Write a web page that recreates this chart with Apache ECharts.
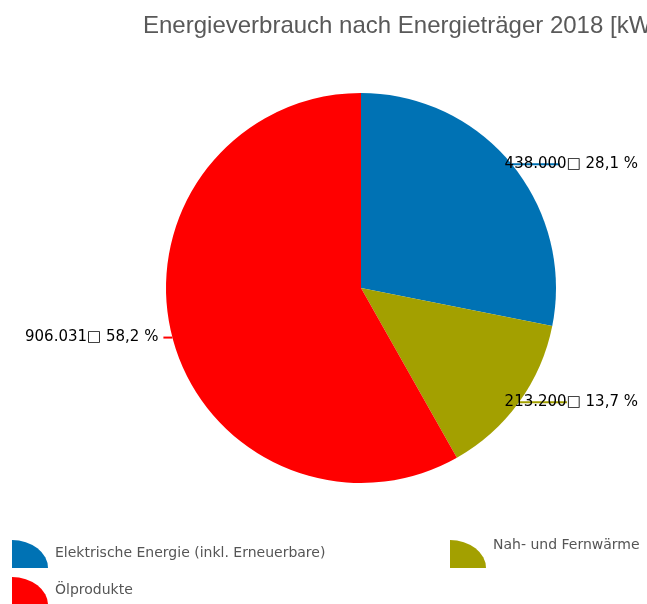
<!DOCTYPE html>
<html>
<head>
<meta charset="utf-8">
<script src="https://cdn.jsdelivr.net/npm/echarts@6/dist/echarts.min.js"></script>
<style>html,body{margin:0;padding:0;background:#fff}#c{width:647px;height:604px}</style>
</head>
<body>
<div id="c"></div>
<script>
const titleText = 'Energieverbrauch nach Energieträger 2018 [kWh]';
const categories = ['Elektrische Energie (inkl. Erneuerbare)', 'Nah- und Fernwärme', 'Ölprodukte'];
const values = [438000, 213200, 906031];
const colors = ['#0072B4', '#A3A000', '#FF0000'];
const unitMark = '\u25A1';

const chart = echarts.init(document.getElementById('c'));
const W = 647;
const iconPath = 'path://M0,0A36,28,0,0,1,36,28L0,28Z';

function fmtNum(v) {
  return String(v).replace(/\B(?=(\d{3})+(?!\d))/g, '.');
}

chart.setOption({
  animation: false,
  title: {
    text: titleText,
    left: 143, top: 14, padding: 0,
    textStyle: { fontFamily: 'Liberation Sans', fontSize: 24, fontWeight: 'normal', color: '#595959' }
  },
  legend: [
    {
      data: [categories[0], categories[2]],
      orient: 'vertical', left: 12, top: 540, height: 120, padding: 0,
      itemWidth: 36, itemHeight: 28, itemGap: 9, icon: iconPath,
      formatter: '{a|{name}}',
      textStyle: { rich: { a: { fontFamily: 'DejaVu Sans', fontSize: 14, color: '#555', padding: [0, 0, 2, 2] } } }
    },
    {
      data: [categories[1]],
      orient: 'vertical', left: 450, top: 538, height: 120, padding: 0,
      itemWidth: 36, itemHeight: 28, icon: iconPath,
      formatter: '{a|{name}}',
      textStyle: { rich: { a: { fontFamily: 'DejaVu Sans', fontSize: 14, color: '#555', padding: [0, 0, 18, 2] } } }
    }
  ],
  series: [{
    type: 'pie',
    center: [361, 288],
    radius: 195,
    startAngle: 90,
    clockwise: true,
    percentPrecision: 1,
    avoidLabelOverlap: false,
    data: categories.map((n, i) => ({ name: n, value: values[i], itemStyle: { color: colors[i] } })),
    label: {
      show: true,
      position: 'outside',
      fontFamily: 'DejaVu Sans',
      fontSize: 15,
      color: '#000',
      formatter: p => fmtNum(p.value) + unitMark + ' ' + p.percent.toFixed(1).replace('.', ',') + ' %'
    },
    labelLine: { show: true, length: 0, length2: 48, smooth: false, lineStyle: { width: 2 } },
    labelLayout: function (params) {
      const pts = params.labelLinePoints;
      if (!pts) return {};
      const p0 = pts[0];
      if (pts[2][0] >= p0[0]) {
        return { x: W - 9, align: 'right', labelLinePoints: pts };
      } else {
        const end = [p0[0] - 9, p0[1]];
        return { x: end[0] - 5, align: 'right', labelLinePoints: [p0, p0, end] };
      }
    }
  }]
});
</script>
</body>
</html>
